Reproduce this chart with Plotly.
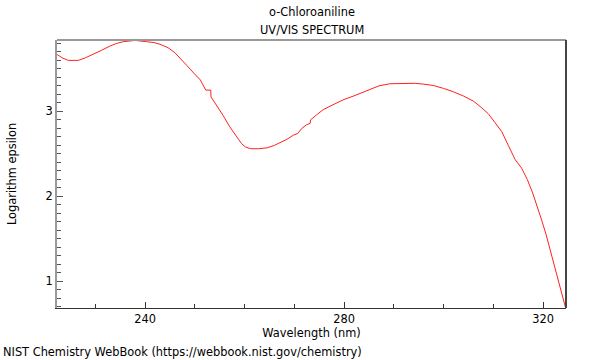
import plotly.graph_objects as go

wavelength = [222.3, 223.5, 224.6, 226.6, 228.0, 229.6, 231.3, 233.0, 234.3, 235.6,
              238.0, 240.3, 241.8, 243.0, 244.6, 246.0, 247.2, 248.4, 249.8, 251.1,
              252.2, 253.2, 253.25, 254.5, 255.7, 257.0, 258.4, 259.4, 260.2, 261.2,
              262.8, 264.5, 266.0, 267.1, 268.5, 269.8, 270.7, 271.5, 272.4, 273.2,
              273.25, 274.5, 275.8, 278.2, 280.0, 281.9, 283.5, 285.2, 287.0, 289.2,
              291.5, 294.3, 296.0, 297.9, 300.0, 302.0, 304.0, 306.0, 307.5, 309.0,
              310.3, 311.7, 313.0, 314.4, 315.7, 316.8, 317.9, 318.8, 319.7, 320.6,
              321.4, 322.1, 322.8, 323.7, 324.5]
log_epsilon = [3.67, 3.625, 3.60, 3.60, 3.63, 3.67, 3.72, 3.77, 3.80, 3.82,
               3.835, 3.82, 3.81, 3.79, 3.75, 3.69, 3.62, 3.54, 3.45, 3.37,
               3.25, 3.25, 3.17, 3.06, 2.95, 2.82, 2.70, 2.62, 2.58, 2.56,
               2.56, 2.57, 2.60, 2.63, 2.67, 2.72, 2.74, 2.80, 2.84, 2.86,
               2.90, 2.96, 3.02, 3.09, 3.14, 3.18, 3.22, 3.26, 3.30, 3.325,
               3.33, 3.33, 3.32, 3.305, 3.27, 3.23, 3.18, 3.12, 3.05, 2.97,
               2.87, 2.76, 2.60, 2.43, 2.33, 2.20, 2.04, 1.89, 1.72, 1.55,
               1.38, 1.22, 1.07, 0.88, 0.69]

x_ticks = [240, 280, 320]
y_ticks = [1, 2, 3]

FONT = "DejaVu Sans"
FS = 11.4
fig = go.Figure()
fig.add_trace(go.Scatter(x=wavelength, y=log_epsilon, mode="lines",
                         line=dict(color="#ff2020", width=1), showlegend=False,
                         hoverinfo="x+y"))

fig.update_layout(
    width=600, height=360,
    margin=dict(l=57, r=34, t=40, b=52, autoexpand=False),
    paper_bgcolor="white", plot_bgcolor="white",
    font=dict(family=FONT, size=FS, color="#000"),
    xaxis=dict(range=[222.3, 324.6], tickvals=x_ticks, ticks="inside", ticklen=6,
               tickcolor="#333", showgrid=False, zeroline=False, automargin=False,
               showline=True, linecolor="#333", linewidth=1,
               minor=dict(dtick=10, tick0=220, ticks="inside", ticklen=4, tickcolor="#333", showgrid=False),
               title=dict(text="Wavelength (nm)", standoff=4, font=dict(size=FS)),
               tickfont=dict(size=FS)),
    yaxis=dict(range=[0.685, 3.84], tickvals=y_ticks, ticks="inside", ticklen=6,
               tickcolor="#555", showgrid=False, zeroline=False, automargin=False,
               showline=True, linecolor="#999", linewidth=2,
               minor=dict(dtick=0.1, tick0=0, ticks="inside", ticklen=4, tickcolor="#555", showgrid=False),
               title=dict(text="Logarithm epsilon", standoff=26, font=dict(size=FS)),
               tickfont=dict(size=FS)),
    shapes=[
        dict(type="line", xref="paper", yref="paper", x0=0, x1=1, y0=1, y1=1,
             line=dict(color="#999", width=2)),
        dict(type="line", xref="paper", yref="paper", x0=1, x1=1, y0=0, y1=1,
             line=dict(color="#444", width=2)),
    ],
    annotations=[
        dict(text="o-Chloroaniline", xref="paper", yref="paper", x=0.5, y=1,
             yanchor="middle", yshift=28, showarrow=False, font=dict(size=FS)),
        dict(text="UV/VIS SPECTRUM", xref="paper", yref="paper", x=0.5, y=1,
             yanchor="middle", yshift=10, showarrow=False, font=dict(size=FS)),
        dict(text="NIST Chemistry WebBook (https://webbook.nist.gov/chemistry)",
             xref="paper", yref="paper", x=-56/509, xanchor="left", y=0,
             yanchor="middle", yshift=-44, showarrow=False, font=dict(size=FS)),
    ],
)

fig.write_html("out.html", config={"displayModeBar": False},
               post_script="document.body.style.margin='0';document.body.style.padding='0';")
